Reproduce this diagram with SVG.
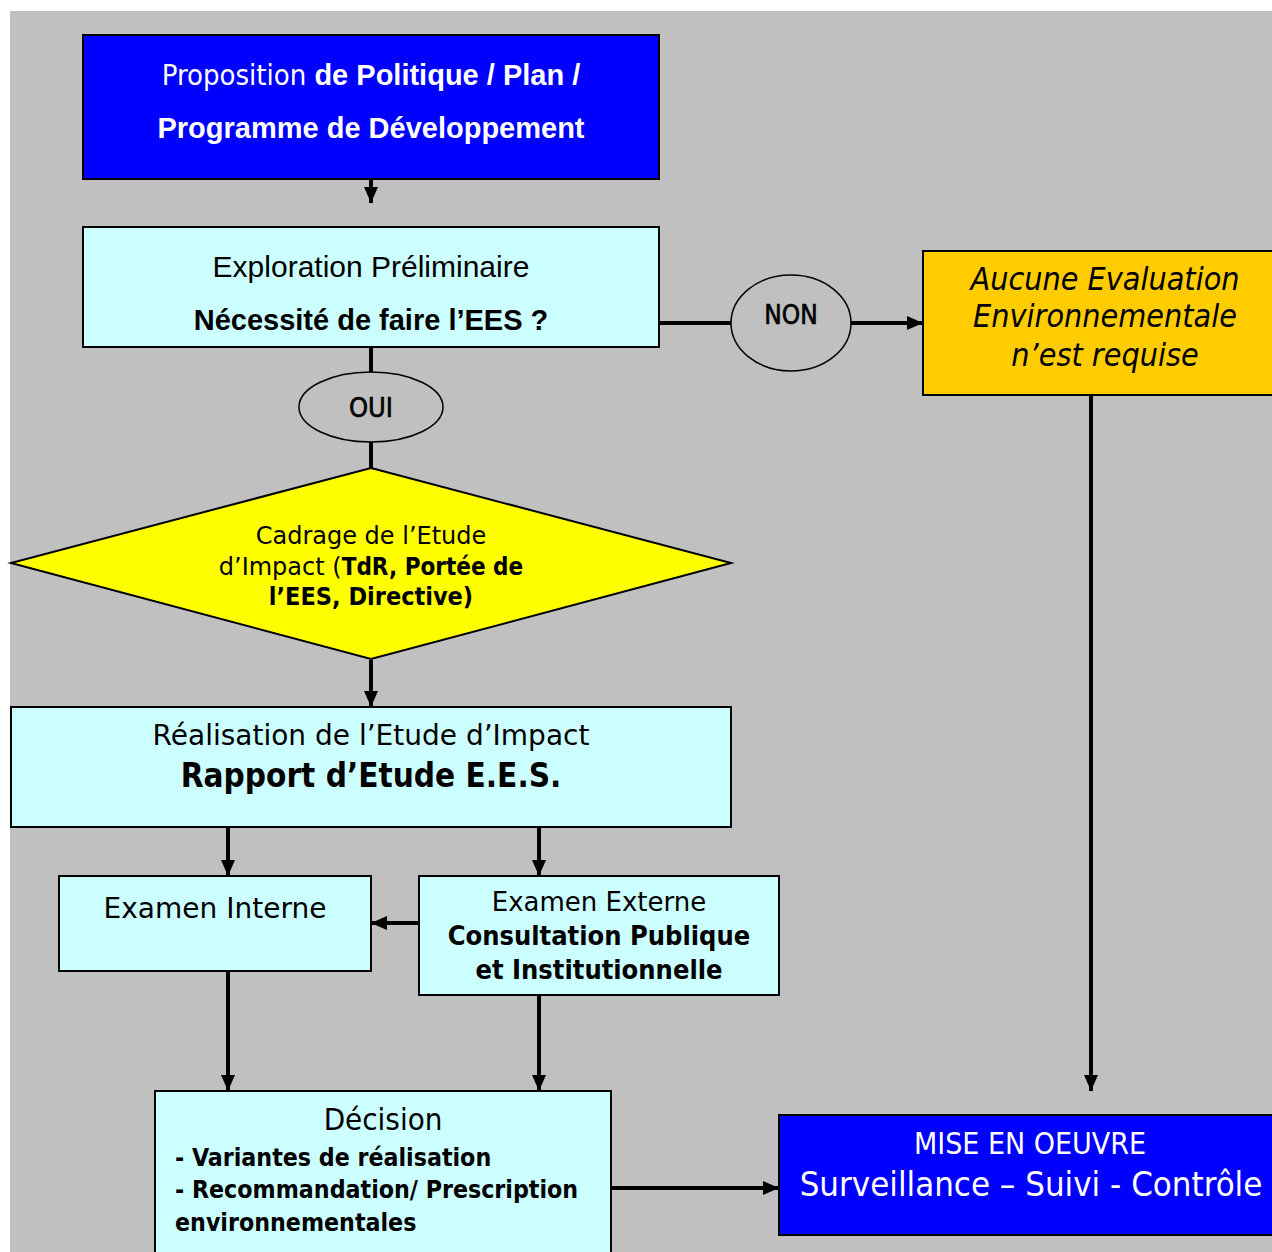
<svg xmlns="http://www.w3.org/2000/svg" width="1272" height="1252" viewBox="0 0 1272 1252">
<style>
.box{stroke:#000;stroke-width:2}
.cyan{fill:#CCFFFF}
.blue{fill:#0000FF}
.t{font-family:"DejaVu Sans Condensed","DejaVu Sans",sans-serif;fill:#000;text-anchor:middle}
.d{font-family:"DejaVu Sans",sans-serif;fill:#000;text-anchor:middle}
.a{font-family:"Liberation Sans",Arial,sans-serif;text-anchor:middle}
.w{fill:#fff}
.b{font-weight:bold}
.c{stroke:#000;stroke-width:4;fill:none}
</style>
<defs>
<marker id="ah" markerUnits="userSpaceOnUse" markerWidth="16" markerHeight="16" viewBox="0 0 16 16" refX="16" refY="8" orient="auto">
<path d="M0,1 L16,8 L0,15 Z" fill="#000"/>
</marker>
</defs>
<rect x="10" y="11" width="1262" height="1241" fill="#C0C0C0"/>
<g id="connectors">
<line class="c" x1="371" y1="180" x2="371" y2="203" marker-end="url(#ah)"/>
<line class="c" x1="371" y1="347" x2="371" y2="372"/>
<line class="c" x1="371" y1="442" x2="371" y2="468"/>
<line class="c" x1="371" y1="660" x2="371" y2="707" marker-end="url(#ah)"/>
<line class="c" x1="228" y1="828" x2="228" y2="876" marker-end="url(#ah)"/>
<line class="c" x1="539" y1="828" x2="539" y2="876" marker-end="url(#ah)"/>
<line class="c" x1="419" y1="923" x2="371" y2="923" marker-end="url(#ah)"/>
<line class="c" x1="228" y1="972" x2="228" y2="1091" marker-end="url(#ah)"/>
<line class="c" x1="539" y1="996" x2="539" y2="1091" marker-end="url(#ah)"/>
<line class="c" x1="612" y1="1188" x2="779" y2="1188" marker-end="url(#ah)"/>
<line class="c" x1="660" y1="323" x2="731" y2="323"/>
<line class="c" x1="851" y1="323" x2="923" y2="323" marker-end="url(#ah)"/>
<line class="c" x1="1091" y1="396" x2="1091" y2="1091" marker-end="url(#ah)"/>
</g>
<g id="proposition">
<rect class="box blue" x="83" y="35" width="576" height="144"/>
<text class="a w" x="371" y="85" font-size="29"><tspan class="t w" style="font-weight:normal">Proposition</tspan><tspan class="b"> de Politique / Plan /</tspan></text>
<text class="a w b" x="371" y="138" font-size="29">Programme de Développement</text>
</g>
<g id="exploration">
<rect class="box cyan" x="83" y="227" width="576" height="120"/>
<text class="a" x="371" y="277" font-size="30">Exploration Préliminaire</text>
<text class="a b" x="371" y="330" font-size="29">Nécessité de faire l’EES ?</text>
</g>
<g id="oui">
<ellipse cx="371" cy="407" rx="72" ry="35" fill="#C0C0C0" stroke="#000" stroke-width="1.5"/>
<text class="t" x="371" y="417" font-size="27" stroke="#000" stroke-width="0.6">OUI</text>
</g>
<g id="non">
<ellipse cx="791" cy="323" rx="60" ry="48" fill="#C0C0C0" stroke="#000" stroke-width="1.5"/>
<text class="t" x="791" y="324" font-size="26" stroke="#000" stroke-width="0.6">NON</text>
</g>
<g id="aucune">
<rect class="box" x="923" y="251" width="360" height="144" fill="#FFCC00"/>
<text class="t" x="1105" y="290" font-size="32" font-style="italic">Aucune Evaluation</text>
<text class="t" x="1105" y="327" font-size="32" font-style="italic">Environnementale</text>
<text class="t" x="1105" y="366" font-size="32" font-style="italic">n’est requise</text>
</g>
<g id="cadrage">
<polygon points="371,468 731,563 371,659 11,563" fill="#FFFF00" stroke="#000" stroke-width="2"/>
<text class="d" x="371" y="544" font-size="24">Cadrage de l’Etude</text>
<text class="d" x="371" y="575" font-size="24">d’Impact (<tspan class="t b">TdR, Portée de</tspan></text>
<text class="t b" x="371" y="605" font-size="25">l’EES, Directive)</text>
</g>
<g id="realisation">
<rect class="box cyan" x="11" y="707" width="720" height="120"/>
<text class="d" x="371" y="745" font-size="28">Réalisation de l’Etude d’Impact</text>
<text class="t b" x="371" y="787" font-size="33">Rapport d’Etude  E.E.S.</text>
</g>
<g id="interne">
<rect class="box cyan" x="59" y="876" width="312" height="95"/>
<text class="d" x="215" y="918" font-size="28">Examen Interne</text>
</g>
<g id="externe">
<rect class="box cyan" x="419" y="876" width="360" height="119"/>
<text class="d" x="599" y="911" font-size="26">Examen Externe</text>
<text class="t b" x="599" y="945" font-size="27">Consultation Publique</text>
<text class="t b" x="599" y="979" font-size="27">et Institutionnelle</text>
</g>
<g id="decision">
<rect class="box cyan" x="155" y="1091" width="456" height="175"/>
<text class="t" x="383" y="1130" font-size="31">Décision</text>
<text class="t b" x="175" y="1166" font-size="24.7" style="text-anchor:start">- Variantes de réalisation</text>
<text class="t b" x="175" y="1198" font-size="24.7" style="text-anchor:start">- Recommandation/ Prescription</text>
<text class="t b" x="175" y="1231" font-size="24.7" style="text-anchor:start">environnementales</text>
</g>
<g id="miseenoeuvre">
<rect class="box blue" x="779" y="1115" width="510" height="120"/>
<text class="t w" x="1030" y="1154" font-size="30">MISE EN OEUVRE</text>
<text class="t w" x="1031" y="1196" font-size="34.5">Surveillance – Suivi - Contrôle</text>
</g>
</svg>
